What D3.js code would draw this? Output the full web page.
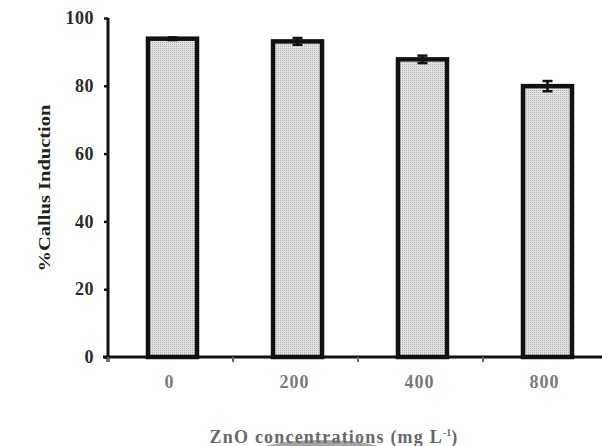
<!DOCTYPE html>
<html><head><meta charset="utf-8">
<script src="https://cdn.jsdelivr.net/npm/d3@7"></script>
<style>body{margin:0;background:#fff}svg{display:block}</style>
</head><body>
<svg id="c" width="602" height="446"></svg>
<script>
const categories = ["0", "200", "400", "800"];
const values = [93.9, 93.1, 87.8, 79.9];
const errors = [0.4, 1.0, 1.1, 1.5];
const yTicks = [0, 20, 40, 60, 80, 100];

const svg = d3.select("#c");
const font = "'Liberation Serif','Times New Roman',serif";

const defs = svg.append("defs");
const pat = defs.append("pattern").attr("id","dots").attr("width",2).attr("height",2).attr("patternUnits","userSpaceOnUse");
pat.append("rect").attr("width",2).attr("height",2).attr("fill","#e4e1e4");
pat.append("rect").attr("width",1).attr("height",1).attr("fill","#b4b0b6");

const x = d3.scaleBand().domain(categories).range([108, 608]).paddingInner(0).paddingOuter(0);
const y = d3.scaleLinear().domain([0, 100]).range([357, 18]);

// bars
const bw = 49;
svg.selectAll("rect.bar").data(values).enter().append("rect")
  .attr("class","bar")
  .attr("x",(d,i)=>x(categories[i]) + x.bandwidth()/2 + 2 - bw/2)
  .attr("y",d=>y(d))
  .attr("width",bw)
  .attr("height",d=>y(0)-y(d))
  .attr("fill","url(#dots)")
  .attr("stroke","#111")
  .attr("stroke-width",4.5);

// error bars
const eg = svg.append("g").attr("stroke","#111").attr("stroke-width",2.5);
values.forEach((v,i)=>{
  const cx = x(categories[i]) + x.bandwidth()/2 + 2;
  eg.append("line").attr("x1",cx).attr("x2",cx).attr("y1",y(v+errors[i])).attr("y2",y(v-errors[i]));
  eg.append("line").attr("x1",cx-5).attr("x2",cx+5).attr("y1",y(v+errors[i])).attr("y2",y(v+errors[i]));
  eg.append("line").attr("x1",cx-5).attr("x2",cx+5).attr("y1",y(v-errors[i])).attr("y2",y(v-errors[i]));
});

// y axis
const ya = svg.append("g").attr("transform","translate(108,0)")
  .call(d3.axisLeft(y).tickValues(yTicks).tickSize(4).tickPadding(10));
ya.select(".domain").attr("stroke","#111").attr("stroke-width",3).attr("d","M0,18V362");
ya.selectAll(".tick line").attr("stroke","#111").attr("stroke-width",2.5);
ya.selectAll(".tick text").attr("font-family",font).attr("font-weight","bold")
  .attr("font-size",18).attr("fill","#2a2a2a").attr("letter-spacing",0.5);

// x axis
const xa = svg.append("g").attr("transform","translate(0,357)")
  .call(d3.axisBottom(x).tickSize(0).tickPadding(18));
xa.select(".domain").attr("stroke","#111").attr("stroke-width",3).attr("d","M103,0H602");
xa.selectAll(".tick text").attr("font-family",font).attr("font-weight","bold").attr("font-size",18)
  .attr("fill","#7a7a7a").attr("letter-spacing",1).attr("dx",-1);
// boundary ticks
const bounds = categories.map(c=>x(c));
svg.append("g").selectAll("line").data(bounds).enter().append("line")
  .attr("x1",d=>d).attr("x2",d=>d).attr("y1",357).attr("y2",362)
  .attr("stroke","#666").attr("stroke-width",2);

// y label
svg.append("text").attr("transform","translate(50,188) rotate(-90)")
  .attr("text-anchor","middle").attr("font-family",font).attr("font-weight","bold")
  .attr("font-size",17).attr("fill","#222").attr("textLength",167).attr("lengthAdjust","spacingAndGlyphs")
  .text("%Callus Induction");

// grey smudge below title (scan artifact)
svg.append("ellipse").attr("cx",322).attr("cy",458).attr("rx",75).attr("ry",18).attr("fill","#a4a4a4");

// x label
const xl = svg.append("text").attr("x",334).attr("y",443).attr("text-anchor","middle")
  .attr("font-family",font).attr("font-weight","bold").attr("font-size",18).attr("fill","#686868")
  .attr("letter-spacing",1.2);
xl.append("tspan").text("ZnO concentrations (mg L");
xl.append("tspan").attr("dy",-7).attr("font-size",10).attr("letter-spacing",0).text("-1");
xl.append("tspan").attr("dy",7).text(")");
</script>
</body></html>
